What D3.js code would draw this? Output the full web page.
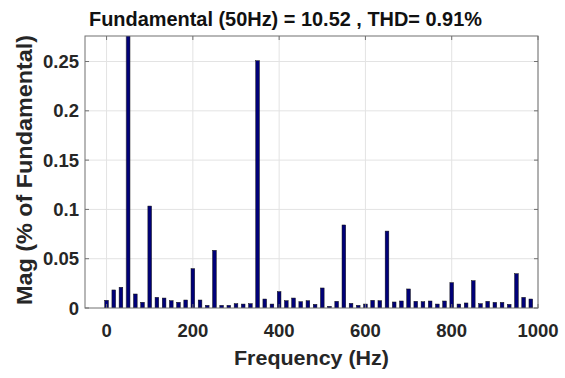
<!DOCTYPE html>
<html>
<head>
<meta charset="utf-8">
<script src="https://cdn.jsdelivr.net/npm/d3@7"></script>
<style>
  body { margin: 0; background: #fff; }
  svg { display: block; font-family: "Liberation Sans", Arial, sans-serif; }
</style>
</head>
<body>
<div id="chart"></div>
<script>
// harmonic spectrum, one bin every 50/3 Hz (3-cycle window)
const binHz = 50 / 3;
const fundamentalIndex = 3;
const magnitudes = [
  0.0078, 0.0183, 0.0210, 100,    0.0142, 0.0058, 0.1034, 0.0108, 0.0101, 0.0074,
  0.0058, 0.0081, 0.0399, 0.0081, 0.0027, 0.0585, 0.0027, 0.0027, 0.0044, 0.0040,
  0.0044, 0.2508, 0.0091, 0.0040, 0.0166, 0.0074, 0.0101, 0.0064, 0.0074, 0.0037,
  0.0203, 0.0017, 0.0068, 0.0842, 0.0047, 0.0027, 0.0040, 0.0078, 0.0074, 0.0780,
  0.0061, 0.0071, 0.0193, 0.0068, 0.0064, 0.0071, 0.0040, 0.0071, 0.0257, 0.0040,
  0.0051, 0.0277, 0.0044, 0.0068, 0.0057, 0.0057, 0.0037, 0.0348, 0.0108, 0.0091
];
const xTicks = [0, 200, 400, 600, 800, 1000];
const yTicks = [0, 0.05, 0.1, 0.15, 0.2, 0.25];
const yTickLabels = ["0", "0.05", "0.1", "0.15", "0.2", "0.25"];
const titleText = "Fundamental (50Hz) = 10.52 , THD= 0.91%";
const xLabelText = "Frequency (Hz)";
const yLabelText = "Mag (% of Fundamental)";

const bars = magnitudes.map((v, i) => ({ f: i * binHz, v: v }));

const width = 565, height = 378;
const margin = { top: 36, right: 27, bottom: 70, left: 85 };
const innerW = width - margin.left - margin.right;
const innerH = height - margin.top - margin.bottom;

// MATLAB-style limit: 10% above the largest harmonic
const maxHarm = d3.max(bars.filter((d, i) => i !== fundamentalIndex), d => d.v);

const x = d3.scaleLinear().domain([-50, 1000]).range([0, innerW]);
const y = d3.scaleLinear().domain([0, maxHarm * 1.1]).range([innerH, 0]);

const svg = d3.select("#chart").append("svg")
  .attr("width", width)
  .attr("height", height);

svg.append("defs").append("clipPath").attr("id", "plotclip")
  .append("rect").attr("width", innerW).attr("height", innerH);

const g = svg.append("g").attr("transform", `translate(${margin.left},${margin.top})`);

// grid
g.append("g").selectAll("line.vg").data(xTicks).join("line")
  .attr("x1", d => x(d)).attr("x2", d => x(d))
  .attr("y1", 0).attr("y2", innerH)
  .attr("stroke", "#e3e3e3").attr("stroke-width", 1);
g.append("g").selectAll("line.hg").data(yTicks.slice(1)).join("line")
  .attr("x1", 0).attr("x2", innerW)
  .attr("y1", d => y(d)).attr("y2", d => y(d))
  .attr("stroke", "#e3e3e3").attr("stroke-width", 1);

// bars
const barW = x(8.5) - x(0);
g.append("g").attr("clip-path", "url(#plotclip)")
  .selectAll("rect").data(bars).join("rect")
  .attr("x", d => x(d.f) - barW / 2)
  .attr("y", d => y(d.v))
  .attr("width", barW)
  .attr("height", d => innerH - y(d.v))
  .attr("fill", "#000078")
  .attr("stroke", "#111")
  .attr("stroke-width", 0.5);

// axes: MATLAB style, inward ticks on all sides
const axisColor = "#707070";
const tickLen = 4;
g.append("rect")
  .attr("x", 0).attr("y", 0).attr("width", innerW).attr("height", innerH)
  .attr("fill", "none").attr("stroke", axisColor).attr("stroke-width", 1);

const ticks = g.append("g").attr("stroke", axisColor).attr("stroke-width", 1);
xTicks.forEach(t => {
  ticks.append("line").attr("x1", x(t)).attr("x2", x(t)).attr("y1", innerH).attr("y2", innerH - tickLen);
  ticks.append("line").attr("x1", x(t)).attr("x2", x(t)).attr("y1", 0).attr("y2", tickLen);
});
yTicks.forEach(t => {
  ticks.append("line").attr("x1", 0).attr("x2", tickLen).attr("y1", y(t)).attr("y2", y(t));
  ticks.append("line").attr("x1", innerW).attr("x2", innerW - tickLen).attr("y1", y(t)).attr("y2", y(t));
});

// tick labels
const labelColor = "#262626";
g.append("g").selectAll("text").data(xTicks).join("text")
  .attr("x", d => x(d))
  .attr("y", innerH + 29)
  .attr("text-anchor", "middle")
  .attr("font-size", 18.5)
  .attr("font-weight", "bold")
  .attr("fill", labelColor)
  .text(d => d);

g.append("g").selectAll("text").data(yTicks).join("text")
  .attr("x", -6)
  .attr("y", d => y(d) + 6.5)
  .attr("text-anchor", "end")
  .attr("font-size", 18.5)
  .attr("font-weight", "bold")
  .attr("fill", labelColor)
  .text((d, i) => yTickLabels[i]);

// title and axis labels
svg.append("text")
  .attr("x", 285.5).attr("y", 26)
  .attr("text-anchor", "middle")
  .attr("font-size", 20)
  .attr("font-weight", "bold")
  .attr("fill", "#111")
  .attr("textLength", 393)
  .attr("lengthAdjust", "spacingAndGlyphs")
  .text(titleText);

svg.append("text")
  .attr("x", margin.left + innerW / 2).attr("y", 365)
  .attr("text-anchor", "middle")
  .attr("font-size", 20)
  .attr("font-weight", "bold")
  .attr("fill", labelColor)
  .attr("textLength", 155)
  .attr("lengthAdjust", "spacingAndGlyphs")
  .text(xLabelText);

svg.append("text")
  .attr("transform", "translate(32,170) rotate(-90)")
  .attr("text-anchor", "middle")
  .attr("font-size", 22)
  .attr("font-weight", "bold")
  .attr("fill", labelColor)
  .attr("textLength", 270)
  .attr("lengthAdjust", "spacingAndGlyphs")
  .text(yLabelText);
</script>
</body>
</html>
